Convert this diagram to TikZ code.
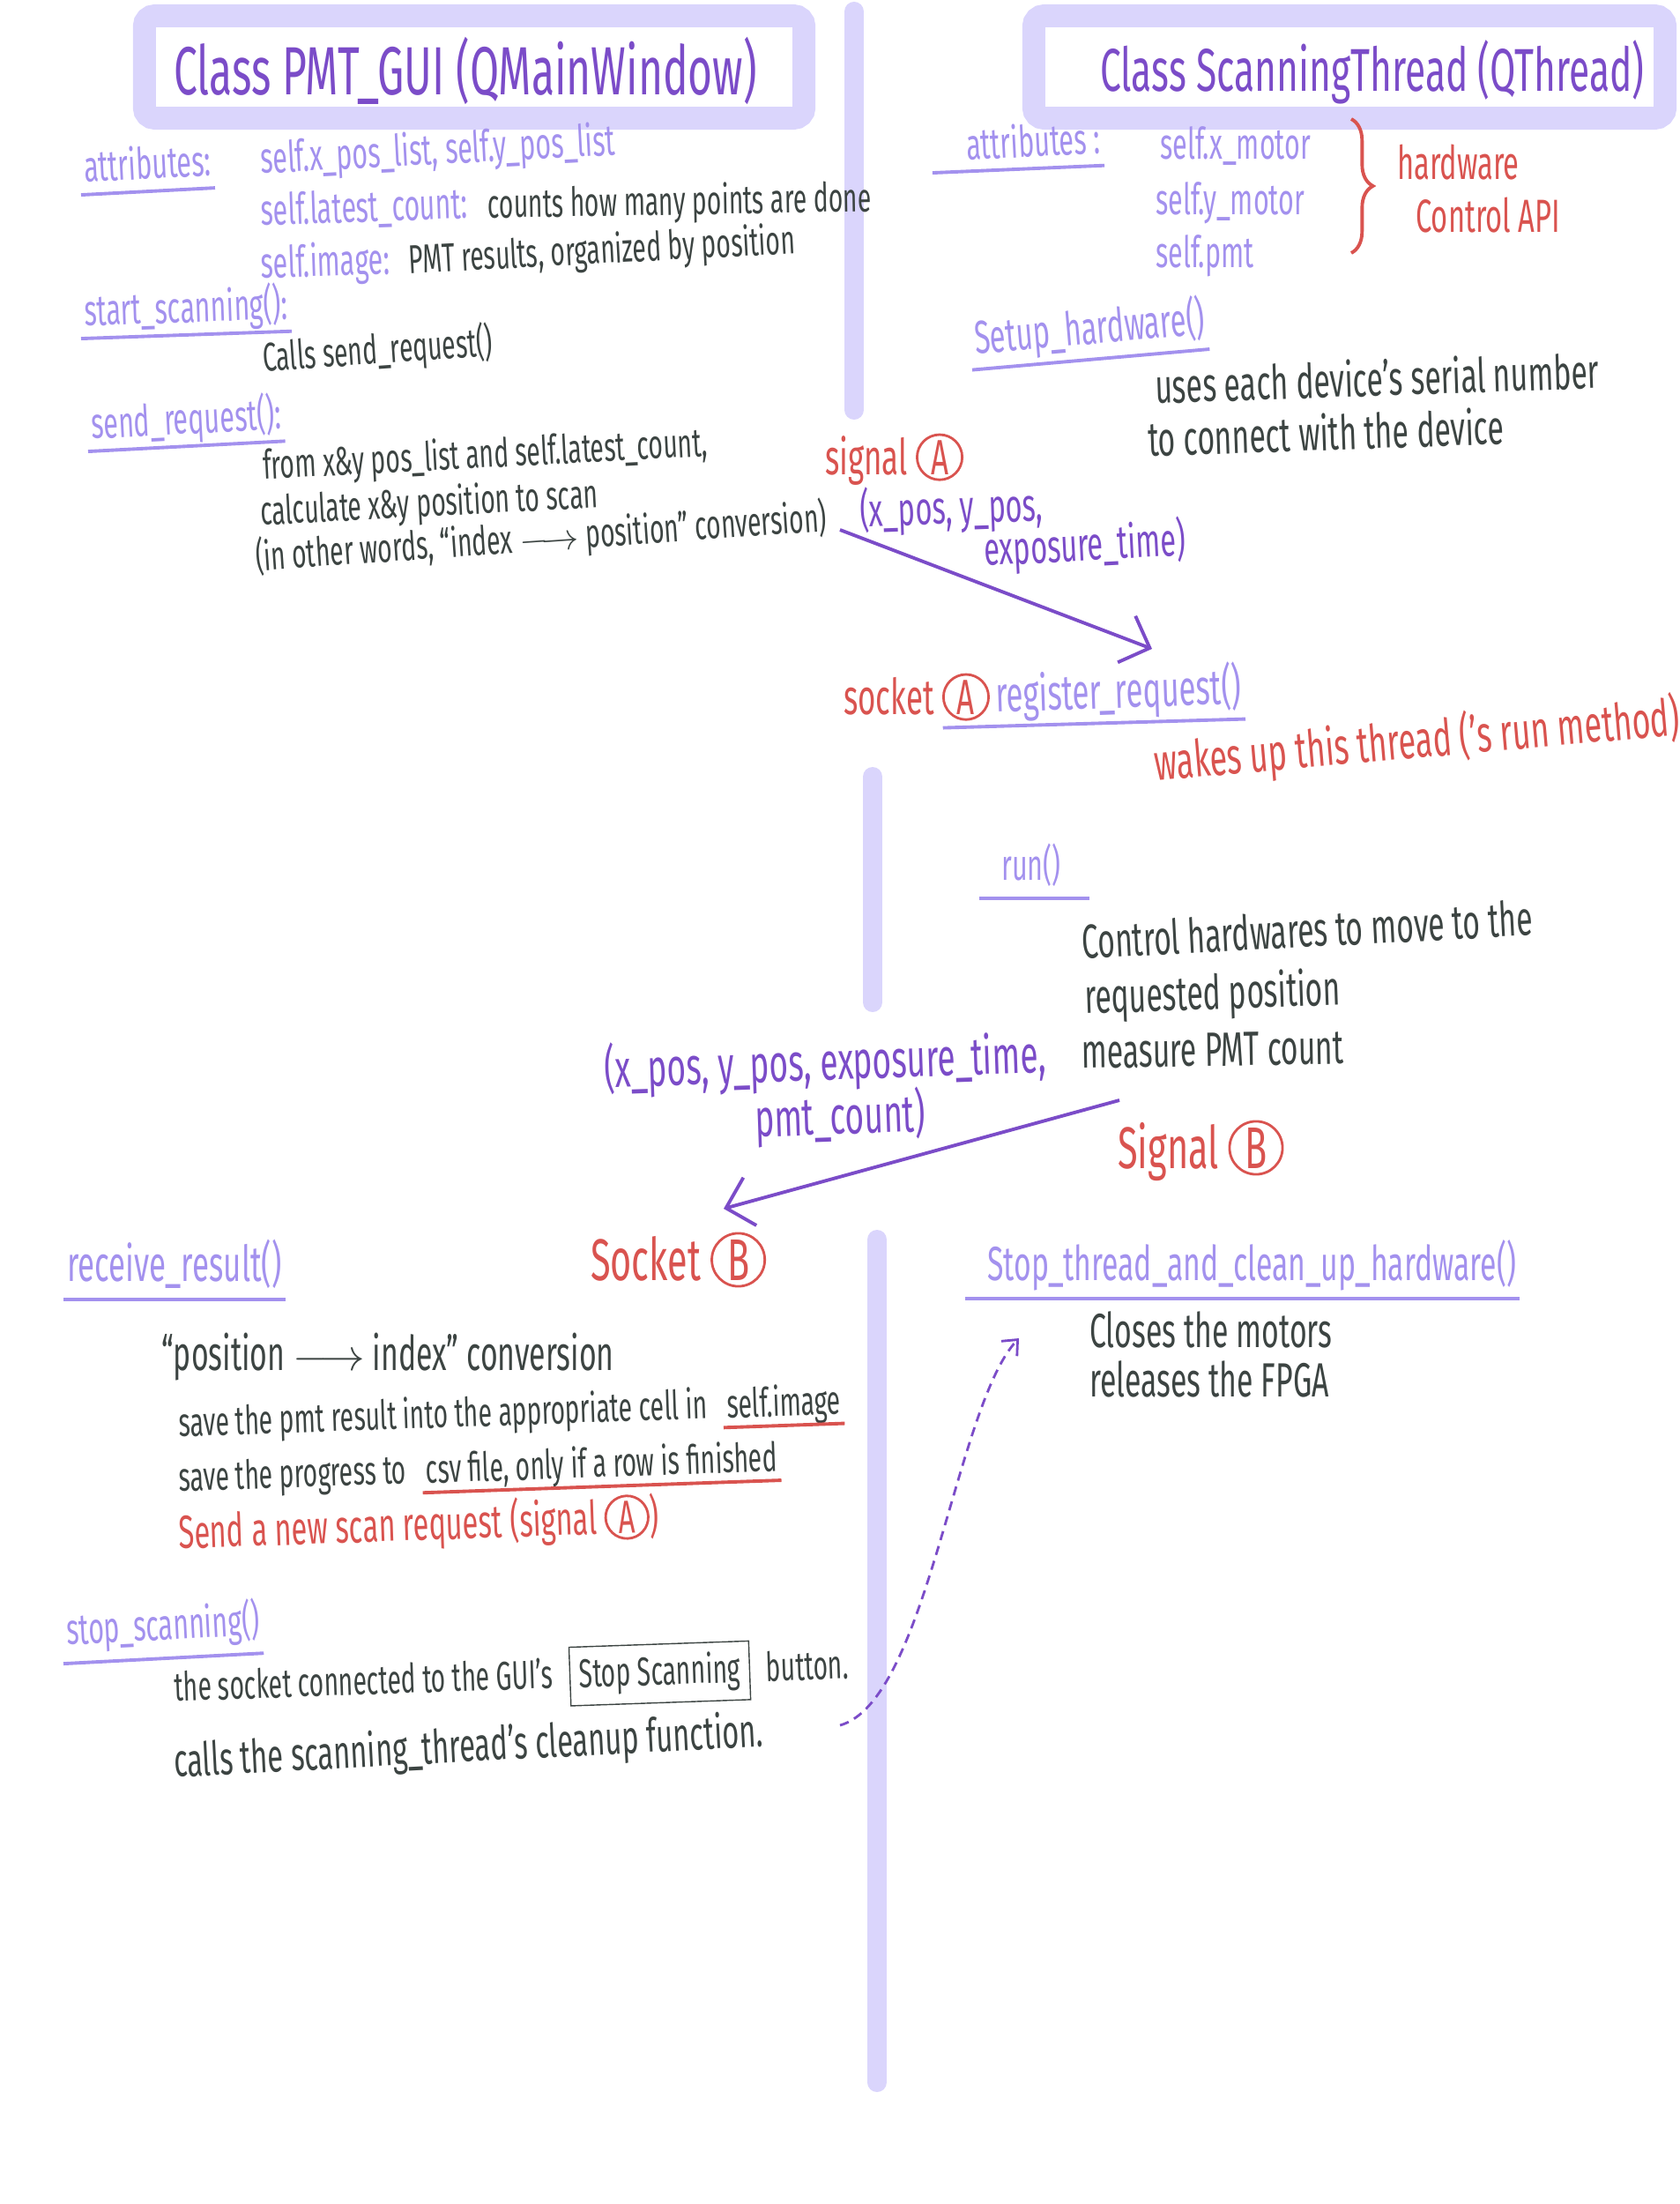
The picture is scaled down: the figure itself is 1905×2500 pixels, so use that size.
\documentclass[tikz,border=0pt]{standalone}
\usepackage{fontspec}
\setmainfont{Fira Sans}[FakeStretch=0.62]
\usetikzlibrary{positioning,arrows.meta,decorations.pathreplacing}

\definecolor{lav}{HTML}{DAD5FC}
\definecolor{ttl}{HTML}{7B4CC8}
\definecolor{lpur}{HTML}{A391EE}
\definecolor{ink}{HTML}{3C4442}
\definecolor{redink}{HTML}{D9534F}

% circled letter, as in signal (A)
\newcommand{\circled}[1]{\tikz[baseline=(cl.base)]\node[circle,draw=redink,text=redink,inner sep=0.8pt,line width=0.8pt] (cl) {#1};}

\tikzset{
  bar/.style={lav, line width=0.22cm, line cap=round},
  titlebox/.style={draw=lav, line width=0.26cm, rounded corners=0.12cm, inner sep=0pt},
  title/.style={text=ttl, font=\fontsize{22}{26}\selectfont},
  head/.style={text=lpur, font=\fontsize{14}{17}\selectfont, anchor=base west, inner sep=1pt},
  note/.style={text=ink, font=\fontsize{13}{16}\selectfont, anchor=base west, inner sep=1pt},
  bignote/.style={note, font=\fontsize{15.5}{19}\selectfont},
  redn/.style={text=redink, font=\fontsize{15}{18}\selectfont, anchor=base west, inner sep=1pt},
  bigred/.style={text=redink, font=\fontsize{19}{22}\selectfont, anchor=base west, inner sep=1pt},
  args/.style={text=ttl, font=\fontsize{15}{18}\selectfont, anchor=base west, inner sep=1pt},
  uline/.style={draw=lpur, line width=1.1pt},
  rline/.style={draw=redink, line width=1.1pt},
  flow/.style={draw=ttl, line width=1.1pt, -{Straight Barb[length=8pt,width=16pt]}},
}

\begin{document}
\begin{tikzpicture}[x=0.01cm, y=-0.01cm]
  \useasboundingbox (0,0) rectangle (1905,2500);

  % lanes
  \draw[bar] (969,13) -- (969,465);
  \draw[bar] (990,881) -- (990,1137);
  \draw[bar] (995,1406) -- (995,2362);

  % class boxes
  \node[titlebox, minimum width=7.48cm, minimum height=1.16cm] (guiBox) at (538,76) {};
  \node[title] (guiTitle) at (528,80) {Class PMT\_GUI (QMainWindow)};
  \node[titlebox, minimum width=7.16cm, minimum height=1.16cm] (thrBox) at (1531,76) {};
  \node[title, font=\fontsize{19.5}{23}\selectfont, anchor=east] (thrTitle) at (1878,82) {Class ScanningThread (QThread)};

  % PMT_GUI attributes
  \node[head, rotate=3] (guiAttr) at (92,207) {attributes:};
  \draw[uline] ([yshift=-4pt]guiAttr.base west) -- ([yshift=-4pt]guiAttr.base east);
  \node[head, rotate=3] (xyList) at (292,197) {self.x\_pos\_list, self.y\_pos\_list};
  \node[head, rotate=2] (latest) at (292,256) {self.latest\_count:};
  \node[note, rotate=1] (latestTxt) at ([xshift=4pt]latest.base east) {counts how many points are done};
  \node[head, rotate=2] (image) at (292,316) {self.image:};
  \node[note, rotate=3] (imageTxt) at ([xshift=4pt]image.base east) {PMT results, organized by position};

  % start_scanning
  \node[head, rotate=2] (startScan) at (92,370) {start\_scanning():};
  \draw[uline] ([yshift=-4pt]startScan.base west) -- ([yshift=-4pt]startScan.base east);
  \node[note, rotate=4] (callsSend) at (295,422) {Calls send\_request()};

  % send_request
  \node[head, rotate=3] (sendReq) at (100,498) {send\_request():};
  \draw[uline] ([yshift=-4pt]sendReq.base west) -- ([yshift=-4pt]sendReq.base east);
  \node[note, rotate=3] (fromXY) at (295,544) {from x\&y pos\_list and self.latest\_count,};
  \node[note, rotate=3] (calcXY) at (292,596) {calculate x\&y position to scan};
  \node[note, rotate=4] (idxPos) at (287,648) {(in other words, “index $\longrightarrow$ position” conversion)};

  % ScanningThread attributes
  \node[head, rotate=3] (thrAttr) at (1093,182) {attributes :};
  \draw[uline] ([xshift=-10pt,yshift=-4pt]thrAttr.base west) -- ([yshift=-4pt]thrAttr.base east);
  \node[head] (xMotor) at (1312,180) {self.x\_motor};
  \node[head] (yMotor) at (1307,243) {self.y\_motor};
  \node[head] (pmtAttr) at (1307,304) {self.pmt};
  \draw[rline, decorate, decoration={brace, amplitude=7pt}] (1533,135) -- (1533,287);
  \node[redn] (hwTxt) at (1581,204) {hardware};
  \node[redn] (apiTxt) at (1602,264) {Control API};

  % setup_hardware
  \node[head, font=\fontsize{15}{18}\selectfont, rotate=5] (setupHw) at (1103,402) {Setup\_hardware()};
  \draw[uline] ([yshift=-5pt]setupHw.base west) -- ([yshift=-5pt]setupHw.base east);
  \node[bignote, rotate=2] (serialTxt) at (1307,458) {uses each device's serial number};
  \node[bignote, rotate=2] (connTxt) at (1299,518) {to connect with the device};

  % signal A
  \node[redn, font=\fontsize{16}{19}\selectfont] (sigA) at (932,538) {signal \circled{A}};
  \node[args, rotate=2] (argsA) at (972,598) {(x\_pos, y\_pos,};
  \node[args, rotate=3] (argsA2) at (1113,642) {exposure\_time)};
  \coordinate (sigAFrom) at (953,601);
  \coordinate (sigATo) at (1307,736);
  \draw[flow] (sigAFrom) -- (sigATo);

  % socket A
  \node[redn, font=\fontsize{16}{19}\selectfont] (sockA) at (953,810) {socket \circled{A}};
  \node[head, font=\fontsize{16}{19}\selectfont, rotate=2] (regReq) at (1126,808) {register\_request()};
  \draw[uline] ([xshift=-16pt,yshift=-5pt]regReq.base west) -- ([yshift=-5pt]regReq.base east);
  \node[redn, font=\fontsize{16.5}{19}\selectfont, rotate=5] (wakeTxt) at (1307,886) {wakes up this thread ('s run method)};

  % run
  \node[head] (runFn) at (1132,998) {run()};
  \draw[uline] ([xshift=-6pt,yshift=-6pt]runFn.base west) -- ([xshift=8pt,yshift=-6pt]runFn.base east);
  \node[bignote, rotate=3] (ctrlTxt) at (1224,1088) {Control hardwares to move to the};
  \node[bignote, rotate=2] (reqPos) at (1227,1150) {requested position};
  \node[bignote, rotate=1] (measTxt) at (1223,1212) {measure PMT count};

  % signal B
  \node[args, font=\fontsize{17}{20}\selectfont, rotate=2] (argsB) at (682,1234) {(x\_pos, y\_pos, exposure\_time,};
  \node[args, font=\fontsize{17}{20}\selectfont, rotate=2] (argsB2) at (853,1290) {pmt\_count)};
  \coordinate (sigBFrom) at (1270,1248);
  \coordinate (sigBTo) at (821,1371);
  \draw[flow] (sigBFrom) -- (sigBTo);
  \node[bigred] (sigB) at (1264,1325) {Signal \circled{B}};
  \node[bigred] (sockB) at (666,1452) {Socket \circled{B}};

  % receive_result
  \node[head, font=\fontsize{16}{19}\selectfont] (recvRes) at (72,1453) {receive\_result()};
  \draw[uline] ([yshift=-6pt]recvRes.base west) -- ([yshift=-6pt]recvRes.base east);
  \node[bignote] (posIdx) at (179,1554) {“position $\longrightarrow$ index” conversion};
  \node[note, rotate=2] (saveCell) at (199,1630) {save the pmt result into the appropriate cell in};
  \node[note, rotate=2] (selfImg) at ([xshift=4pt]saveCell.base east) {self.image};
  \draw[rline] ([yshift=-3pt]selfImg.base west) -- ([yshift=-3pt]selfImg.base east);
  \node[note, rotate=2] (saveProg) at (199,1692) {save the progress to};
  \node[note, rotate=2] (csvTxt) at ([xshift=4pt]saveProg.base east) {csv file, only if a row is finished};
  \draw[rline] ([yshift=-3pt]csvTxt.base west) -- ([yshift=-3pt]csvTxt.base east);
  \node[redn, rotate=2] (newReq) at (199,1757) {Send a new scan request (signal \circled{A})};

  % stop_scanning
  \node[head, rotate=3] (stopScan) at (72,1866) {stop\_scanning()};
  \draw[uline] ([yshift=-6pt]stopScan.base west) -- ([yshift=-6pt]stopScan.base east);
  \node[note, rotate=2] (sockTxt) at (194,1930) {the socket connected to the GUI's};
  \node[note, rotate=2, draw=ink, inner sep=3pt] (stopBtn) at ([xshift=4pt]sockTxt.base east) {Stop Scanning};
  \node[note, rotate=2] (btnTxt) at ([xshift=4pt]stopBtn.base east) {button.};
  \node[bignote, font=\fontsize{15}{18}\selectfont, rotate=3] (callsClean) at (194,2016) {calls the scanning\_thread's cleanup function.};

  % stop_thread_and_clean_up_hardware
  \node[head, font=\fontsize{15.5}{18}\selectfont] (stopThr) at (1116,1452) {Stop\_thread\_and\_clean\_up\_hardware()};
  \draw[uline] ([xshift=-6pt,yshift=-6pt]stopThr.base west) -- ([yshift=-6pt]stopThr.base east);
  \node[bignote] (closeTxt) at (1232,1528) {Closes the motors};
  \node[bignote] (relTxt) at (1232,1584) {releases the FPGA};

  % cleanup call
  \coordinate (cleanFrom) at (953,1957);
  \coordinate (cleanTo) at (1156,1518);
  \draw[draw=ttl, line width=0.8pt, dash pattern=on 3pt off 2pt, -{Straight Barb[length=4pt,width=7pt]}]
    (cleanFrom) .. controls (1052,1929) and (1084,1594) .. (cleanTo);
\end{tikzpicture}
\end{document}
